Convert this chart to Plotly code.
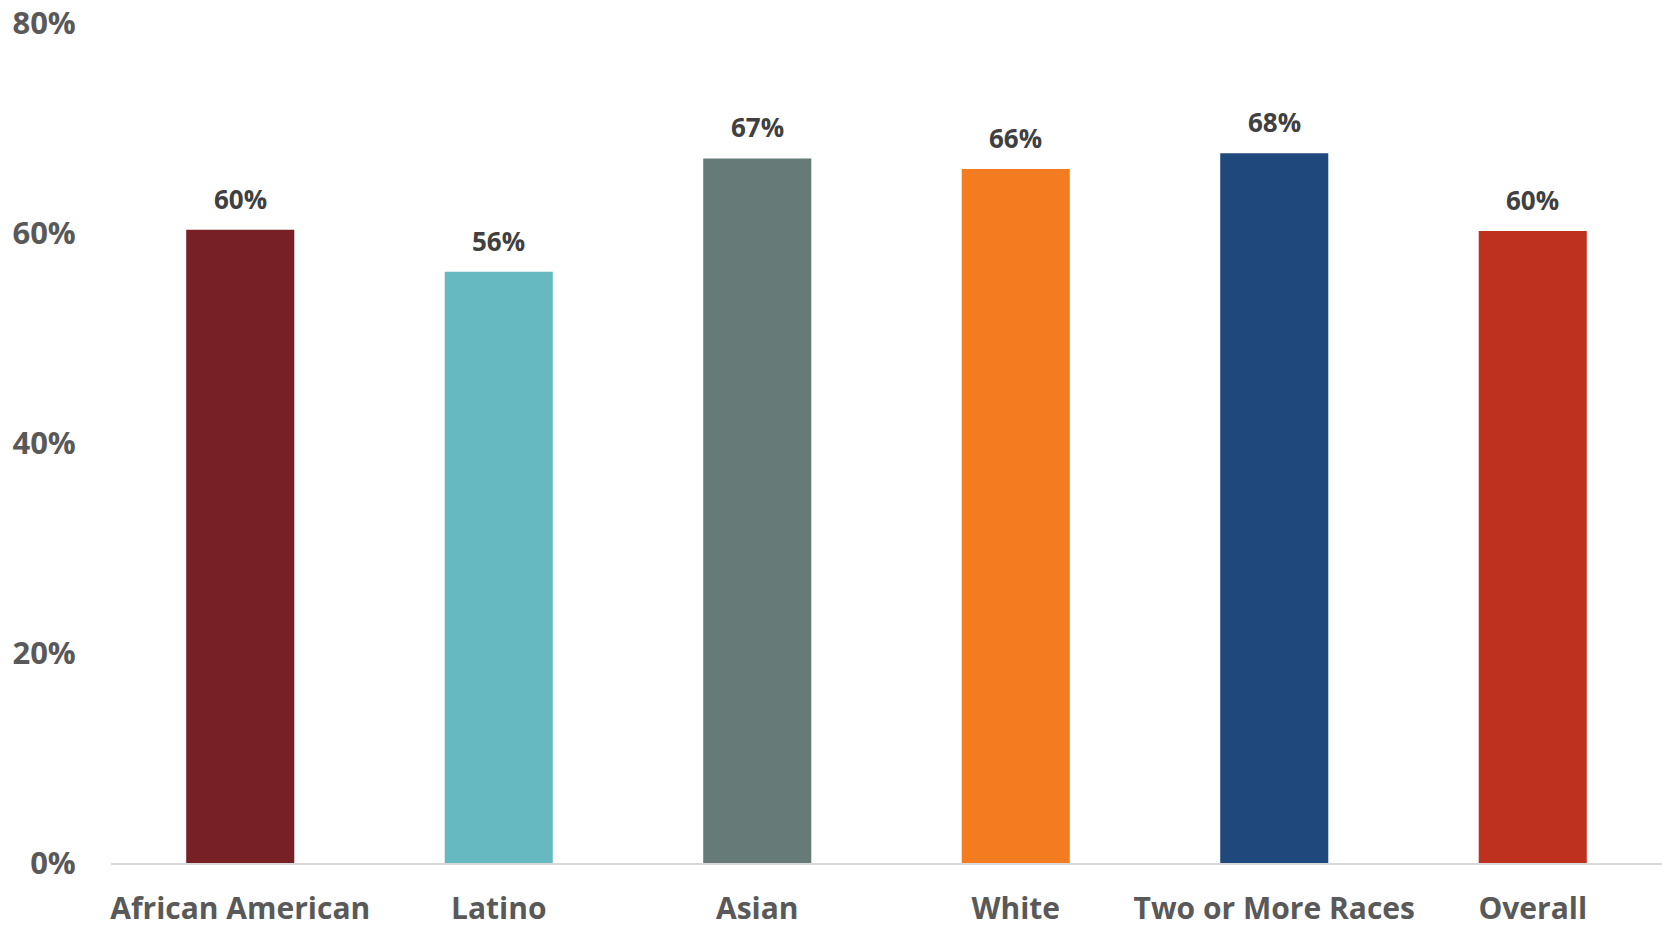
import plotly.graph_objects as go

# Share of students by race/ethnicity
categories = ["African American", "Latino", "Asian", "White", "Two or More Races", "Overall"]
values = [0.603, 0.563, 0.671, 0.661, 0.676, 0.602]
bar_colors = ["#772126", "#67B9C1", "#667A77", "#F47C20", "#1F497D", "#BE311E"]
y_ticks = [0, 0.2, 0.4, 0.6, 0.8]

FONT = "Open Sans"

fig = go.Figure(
    go.Bar(
        x=categories,
        y=values,
        marker=dict(color=bar_colors, line=dict(width=0)),
        width=0.418,
        hoverinfo="skip",
    )
)

# Value labels above each bar
for cat, val in zip(categories, values):
    fig.add_annotation(
        x=cat,
        y=val,
        text=f"{round(val * 100)}%",
        showarrow=False,
        yanchor="middle",
        yshift=31,
        font=dict(family=FONT, size=26, color="#404040", weight="bold"),
    )

fig.update_layout(
    width=1662,
    height=930,
    margin=dict(l=111, r=0, t=23, b=67, autoexpand=False),
    paper_bgcolor="white",
    plot_bgcolor="white",
    showlegend=False,
    font=dict(family=FONT, color="#595959"),
)

fig.update_yaxes(
    range=[0, 0.8],
    tickvals=y_ticks,
    tickformat=".0%",
    showgrid=False,
    zeroline=False,
    showline=False,
    ticks="outside",
    ticklen=28,
    tickcolor="rgba(0,0,0,0)",
    tickfont=dict(family=FONT, size=31, color="#595959", weight="bold"),
    automargin=False,
)

fig.update_xaxes(
    showgrid=False,
    showline=True,
    linecolor="#D9D9D9",
    linewidth=2,
    ticks="outside",
    ticklen=18,
    tickcolor="rgba(0,0,0,0)",
    tickfont=dict(family=FONT, size=30, color="#595959", weight="bold"),
    automargin=False,
)

fig.write_html("out.html")
